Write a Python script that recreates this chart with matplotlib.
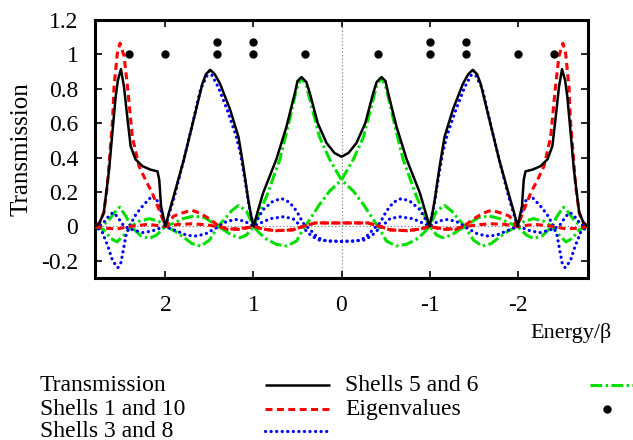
import numpy as np
import matplotlib
matplotlib.use("Agg")
import matplotlib.pyplot as plt
from matplotlib.lines import Line2D

plt.rcParams['font.family'] = ['Liberation Serif', 'DejaVu Serif']
plt.rcParams['lines.scale_dashes'] = False

# ---------------- data ----------------
# Transmission, symmetric in energy: values for E >= 0
T_E = [0.0, 0.08, 0.17, 0.27, 0.36, 0.40, 0.455, 0.50, 0.53, 0.625, 0.74, 0.89, 0.95, 1.0,
       1.03, 1.06, 1.115, 1.17, 1.266, 1.38, 1.44, 1.49, 1.54, 1.58, 1.68, 1.79, 1.906, 1.96, 2.0,
       2.03, 2.05, 2.07, 2.09, 2.17, 2.26, 2.34, 2.395, 2.43, 2.47, 2.505, 2.54, 2.565,
       2.60, 2.64, 2.70, 2.75, 2.8]
T_V = [0.405, 0.427, 0.485, 0.60, 0.775, 0.84, 0.868, 0.845, 0.775, 0.58, 0.39, 0.195, 0.09, 0.0,
       0.07, 0.157, 0.35, 0.52, 0.68, 0.83, 0.885, 0.91, 0.885, 0.83, 0.62, 0.39, 0.176, 0.08, 0.0,
       0.07, 0.118, 0.27, 0.32, 0.33, 0.35, 0.39, 0.466, 0.62, 0.81, 0.914, 0.85, 0.755,
       0.56, 0.33, 0.08, 0.02, 0.0]

# Each pair of shells: the two members seen on the E >= 0 side (A and B);
# the E < 0 side is their mirror image.
red_A_E = [0.0, 0.3, 0.437, 0.55, 0.75, 0.9, 1.0, 1.15, 1.3, 1.4, 1.49, 1.6, 1.7, 1.8, 1.906,
           2.0, 2.075, 2.15, 2.226, 2.3, 2.376, 2.43, 2.47, 2.515, 2.546, 2.584, 2.60, 2.63,
           2.66, 2.70, 2.75, 2.8]
red_A_V = [0.02, 0.02, 0.0, -0.02, -0.025, -0.015, 0.0, -0.017, -0.017, 0.005, 0.04, 0.075,
           0.094, 0.08, 0.06, 0.0, 0.1, 0.195, 0.27, 0.35, 0.52, 0.81, 0.99, 1.065, 1.007,
           0.81, 0.62, 0.43, 0.234, 0.08, 0.02, 0.0]
red_B_E = [0.0, 0.3, 0.437, 0.55, 0.75, 0.9, 1.0, 1.1, 1.25, 1.42, 1.55, 1.7, 1.85, 2.0, 2.2,
           2.4, 2.55, 2.7, 2.8]
red_B_V = [0.02, 0.02, 0.0, -0.02, -0.025, -0.015, 0.0, -0.01, -0.015, 0.0, 0.01, 0.015,
           0.012, 0.0, 0.012, 0.0, -0.015, -0.01, 0.0]

blue_A_E = [0.0, 0.17, 0.27, 0.36, 0.437, 0.51, 0.59, 0.68, 0.776, 0.89, 1.0, 1.05, 1.1, 1.15,
            1.2, 1.3, 1.4, 1.5, 1.6, 1.7, 1.8, 1.9, 2.0, 2.05, 2.09, 2.147, 2.26, 2.335, 2.41,
            2.45, 2.47, 2.505, 2.54, 2.6, 2.655, 2.72, 2.8]
blue_A_V = [-0.087, -0.085, -0.066, -0.017, 0.02, 0.089, 0.14, 0.162, 0.147, 0.098, 0.0, 0.12,
            0.28, 0.43, 0.53, 0.68, 0.81, 0.905, 0.80, 0.58, 0.37, 0.17, 0.0, 0.089, 0.147,
            0.18, 0.118, 0.07, 0.0, -0.056, -0.114, -0.21, -0.24, -0.20, -0.114, -0.03, 0.0]
blue_B_E = [0.0, 0.13, 0.25, 0.34, 0.418, 0.48, 0.55, 0.66, 0.81, 0.92, 1.0, 1.1, 1.19, 1.3,
            1.43, 1.53, 1.64, 1.755, 1.906, 2.0, 2.09, 2.15, 2.26, 2.37, 2.47, 2.55, 2.6,
            2.66, 2.72, 2.8]
blue_B_V = [-0.087, -0.085, -0.08, -0.056, -0.017, 0.01, 0.045, 0.056, 0.045, 0.02, 0.0, 0.03,
            0.04, 0.03, -0.01, -0.04, -0.056, -0.052, -0.02, 0.0, -0.015, -0.027, -0.036,
            -0.02, 0.0, 0.06, 0.08, 0.05, 0.01, 0.0]

green_A_E = [0.0, 0.135, 0.25, 0.34, 0.40, 0.455, 0.51, 0.59, 0.70, 0.85, 1.0, 1.08, 1.17,
             1.25, 1.4, 1.5, 1.6, 1.7, 1.8, 1.9, 2.0, 2.1, 2.18, 2.28, 2.39, 2.45, 2.52, 2.58,
             2.65, 2.73, 2.8]
green_A_V = [0.27, 0.39, 0.52, 0.70, 0.82, 0.865, 0.80, 0.62, 0.39, 0.176, 0.0, 0.09, 0.122,
             0.09, 0.0, -0.08, -0.115, -0.1, -0.06, -0.025, 0.0, -0.05, -0.07, -0.055, 0.0,
             0.06, 0.112, 0.08, 0.03, 0.0, 0.0]
green_B_E = [0.0, 0.135, 0.25, 0.36, 0.437, 0.51, 0.62, 0.74, 0.85, 0.93, 1.0, 1.08, 1.15, 1.25,
             1.4, 1.55, 1.68, 1.8, 1.9, 2.0, 2.08, 2.18, 2.3, 2.39, 2.47, 2.55, 2.62, 2.7, 2.8]
green_B_V = [0.27, 0.205, 0.127, 0.04, -0.017, -0.085, -0.114, -0.104, -0.075, -0.04, 0.0,
             -0.05, -0.066, -0.05, 0.0, 0.05, 0.06, 0.045, 0.02, 0.0, 0.03, 0.045, 0.03, 0.0,
             -0.05, -0.09, -0.07, -0.02, 0.0]

# Eigenvalues (degenerate ones drawn as a second dot above)
eig_E = [2.414, 2.0, 1.414, 1.414, 1.0, 1.0, 0.414,
         -0.414, -1.0, -1.0, -1.414, -1.414, -2.0, -2.414]
eig_Y = [1.0, 1.0, 1.0, 1.075, 1.0, 1.075, 1.0,
         1.0, 1.0, 1.075, 1.0, 1.075, 1.0, 1.0]

x_ticks = [2, 1, 0, -1, -2]
x_tick_labels = ["2", "1", "0", "-1", "-2"]
y_ticks = [-0.2, 0.0, 0.2, 0.4, 0.6, 0.8, 1.0, 1.2]
y_tick_labels = ["-0.2", "0", "0.2", "0.4", "0.6", "0.8", "1", "1.2"]


def symmetric(E, V):
    E = np.asarray(E); V = np.asarray(V)
    return np.concatenate([-E[::-1], E[1:]]), np.concatenate([V[::-1], V[1:]])


def pair(EA, VA, EB, VB):
    EA = np.asarray(EA); VA = np.asarray(VA)
    EB = np.asarray(EB); VB = np.asarray(VB)
    x1 = np.concatenate([-EB[::-1], EA[1:]])
    y1 = np.concatenate([VB[::-1], VA[1:]])
    return (x1, y1), (-x1, y1)


# ---------------- figure ----------------
W, H = 633, 440
fig = plt.figure(figsize=(W / 100, H / 100), dpi=100)
L, R, TOP, BOT = 95, 588, 20, 278
ax = fig.add_axes([L / W, 1 - BOT / H, (R - L) / W, (BOT - TOP) / H])

blk = dict(color='black', lw=1.8, solid_capstyle='butt')
red = dict(color='#ff0000', lw=2.2, dashes=(5.0, 3.2))
blu = dict(color='#0000ff', lw=2.3, dashes=(0.1, 3.9), dash_capstyle='round')
grn = dict(color='#00e000', lw=2.2, dashes=(8.5, 2.4, 1.8, 2.4))

ax.axhline(0, color='#888888', lw=0.8, ls=(0, (1, 1.5)), zorder=1)
ax.axvline(0, color='#888888', lw=0.8, ls=(0, (1, 1.5)), zorder=1)

for (x, y) in pair(green_A_E, green_A_V, green_B_E, green_B_V):
    ax.plot(x, y, zorder=3, **grn)
for (x, y) in pair(blue_A_E, blue_A_V, blue_B_E, blue_B_V):
    ax.plot(x, y, zorder=4, **blu)
for (x, y) in pair(red_A_E, red_A_V, red_B_E, red_B_V):
    ax.plot(x, y, zorder=5, **red)
tx, ty = symmetric(T_E, T_V)
ax.plot(tx, ty, zorder=6, **blk)
ax.plot(eig_E, eig_Y, 'o', color='black', ms=5, zorder=7)

ax.set_xlim(2.8, -2.8)
ax.set_ylim(-0.3, 1.2)
ax.set_xticks(x_ticks)
ax.set_xticklabels(x_tick_labels)
ax.set_yticks(y_ticks)
ax.set_yticklabels(y_tick_labels)
ax.tick_params(direction='in', length=5, width=1.2, top=True, right=True, labelsize=17)
ax.tick_params(axis='x', pad=12)
ax.tick_params(axis='y', pad=12)
for s in ax.spines.values():
    s.set_linewidth(2.2)
ax.set_ylabel("Transmission", fontsize=18, labelpad=6)

fig.text(612 / W, 1 - 333 / H, "Energy/β", fontsize=16, ha='right', va='center')

# ---------------- legend (gnuplot-style, below the plot) ----------------
rows = [385, 409, 431]
entries = [
    (40, rows[0], "Transmission", (265, 330), blk, None),
    (40, rows[1], "Shells 1 and 10", (265, 330), red, None),
    (40, rows[2], "Shells 3 and 8", (265, 330), blu, None),
    (345, rows[0], "Shells 5 and 6", (590, 660), grn, None),
    (345, rows[1], "Eigenvalues", None, None, 607),
]
for tx0, ty0, label, seg, style, dotx in entries:
    fig.text(tx0 / W, 1 - ty0 / H, label, fontsize=17, ha='left', va='center')
    if seg is not None:
        fig.add_artist(Line2D([seg[0] / W, seg[1] / W], [1 - ty0 / H, 1 - ty0 / H],
                              transform=fig.transFigure, **style))
    if dotx is not None:
        fig.add_artist(Line2D([dotx / W], [1 - ty0 / H], marker='o', ms=5,
                              color='black', ls='none', transform=fig.transFigure))

fig.savefig("out.png", dpi=100)
